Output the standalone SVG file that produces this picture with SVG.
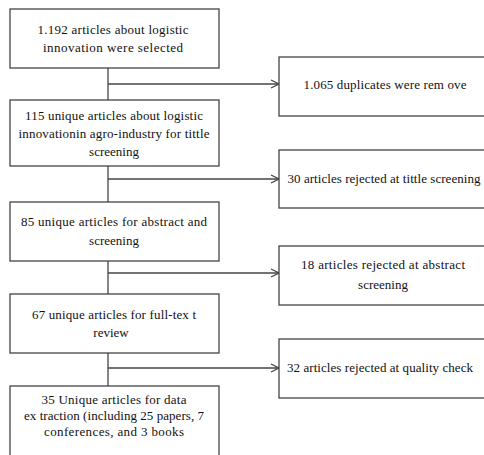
<svg xmlns="http://www.w3.org/2000/svg" width="484" height="455" viewBox="0 0 484 455">
<defs>
<style>
.box{fill:#fff;stroke:#444;stroke-width:1.3}
.ln{fill:none;stroke:#444;stroke-width:1.3}
.t{font-family:'Liberation Serif','DejaVu Serif',serif;font-size:13px;fill:#111;text-anchor:middle}
</style>
<marker id="ah" viewBox="0 0 10 10" refX="9" refY="5" markerWidth="10" markerHeight="10" markerUnits="userSpaceOnUse" orient="auto">
<path d="M1,1 L9,5 L1,9" fill="none" stroke="#444" stroke-width="1.3"/>
</marker>
</defs>
<rect width="484" height="455" fill="#fff"/>
<g id="connectors">
<line class="ln" x1="108" y1="68" x2="108" y2="100"/>
<line class="ln" x1="108" y1="166" x2="108" y2="202"/>
<line class="ln" x1="108" y1="261" x2="108" y2="294"/>
<line class="ln" x1="108" y1="353" x2="108" y2="386"/>
<line class="ln" x1="108" y1="84" x2="279" y2="84" marker-end="url(#ah)"/>
<line class="ln" x1="108" y1="179" x2="279" y2="179" marker-end="url(#ah)"/>
<line class="ln" x1="108" y1="273" x2="279" y2="273" marker-end="url(#ah)"/>
<line class="ln" x1="108" y1="368" x2="279" y2="368" marker-end="url(#ah)"/>
</g>
<g class="t" font-family="Liberation Serif, serif">
<g id="n1">
<rect class="box" x="10" y="9" width="209" height="59"/>
<text x="113" y="34" textLength="151">1.192 articles about logistic</text>
<text x="113" y="52" textLength="140">innovation were selected</text>
</g>
<g id="n2">
<rect class="box" x="10" y="100" width="209" height="66"/>
<text x="114" y="120" textLength="178">115 unique articles about logistic</text>
<text x="114" y="138" textLength="191">innovationin agro-industry for tittle</text>
<text x="114" y="156">screening</text>
</g>
<g id="n3">
<rect class="box" x="10" y="202" width="209" height="59"/>
<text x="114" y="226" textLength="186">85 unique articles for abstract and</text>
<text x="114" y="245">screening</text>
</g>
<g id="n4">
<rect class="box" x="10" y="294" width="209" height="59"/>
<text x="114" y="319" textLength="164">67 unique articles for full-tex t</text>
<text x="111" y="337">review</text>
</g>
<g id="n5">
<rect class="box" x="10" y="386" width="209" height="80"/>
<text x="114" y="404" textLength="145">35 Unique articles for data</text>
<text x="114" y="420" textLength="180">ex traction (including 25 papers, 7</text>
<text x="114" y="436" textLength="140">conferences, and 3 books</text>
</g>
<g id="r1">
<rect class="box" x="279" y="57" width="212" height="59"/>
<text x="385" y="89" textLength="163">1.065 duplicates were rem ove</text>
</g>
<g id="r2">
<rect class="box" x="279" y="150" width="212" height="58"/>
<text x="384" y="183" textLength="193">30 articles rejected at tittle screening</text>
</g>
<g id="r3">
<rect class="box" x="279" y="246" width="212" height="59"/>
<text x="383" y="269" textLength="164">18 articles rejected at abstract</text>
<text x="383" y="289">screening</text>
</g>
<g id="r4">
<rect class="box" x="279" y="339" width="212" height="59"/>
<text x="380" y="372" textLength="186">32 articles rejected at quality check</text>
</g>
</g>
</svg>
